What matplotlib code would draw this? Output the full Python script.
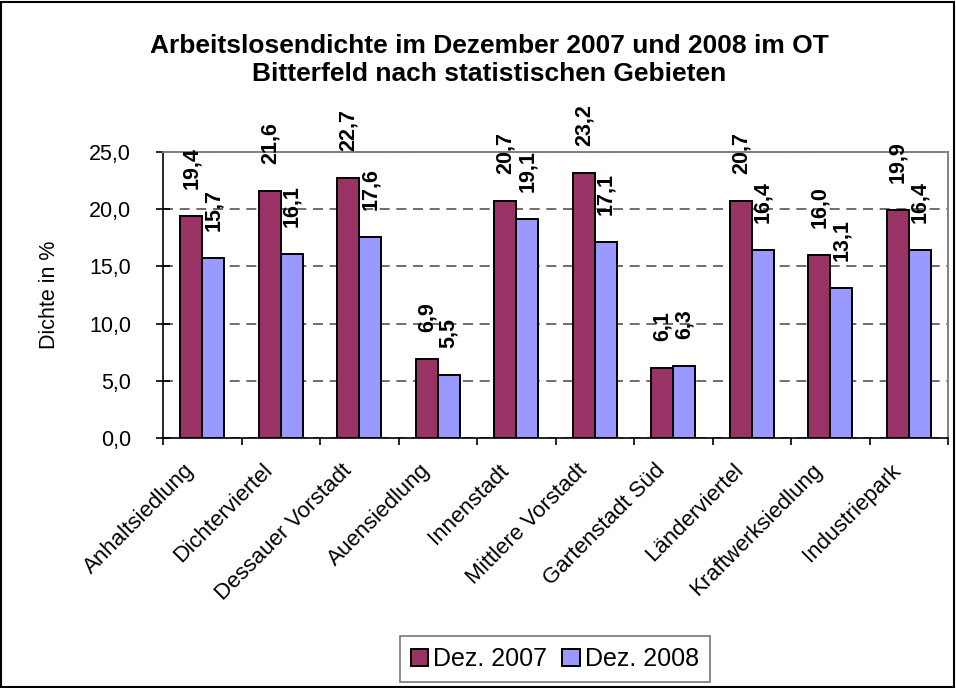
import matplotlib
matplotlib.use("Agg")
import matplotlib.pyplot as plt
import numpy as np
from matplotlib.patches import Rectangle
import matplotlib.transforms as mtransforms

plt.rcParams['font.family'] = ['Liberation Sans', 'DejaVu Sans']

categories = ["Anhaltsiedlung", "Dichterviertel", "Dessauer Vorstadt", "Auensiedlung",
              "Innenstadt", "Mittlere Vorstadt", "Gartenstadt Süd", "Länderviertel",
              "Kraftwerksiedlung", "Industriepark"]
dez2007 = [19.4, 21.6, 22.7, 6.9, 20.7, 23.2, 6.1, 20.7, 16.0, 19.9]
dez2008 = [15.7, 16.1, 17.6, 5.5, 19.1, 17.1, 6.3, 16.4, 13.1, 16.4]
series_labels = ["Dez. 2007", "Dez. 2008"]
colors = ["#993366", "#9999FF"]
yticks = [0, 5, 10, 15, 20, 25]

W, H = 956, 688
fig = plt.figure(figsize=(W/100, H/100), dpi=100)
ax = fig.add_axes([163/W, 1-438/H, (948-163)/W, (438-152)/H])

x = np.arange(len(categories))
bw = 0.28
b1 = ax.bar(x - bw/2, dez2007, bw, color=colors[0], edgecolor='black', linewidth=1.4, label=series_labels[0], zorder=3)
b2 = ax.bar(x + bw/2, dez2008, bw, color=colors[1], edgecolor='black', linewidth=1.4, label=series_labels[1], zorder=3)

for bars, vals in ((b1, dez2007), (b2, dez2008)):
    for r, v in zip(bars, vals):
        ax.annotate(f"{v:.1f}".replace('.', ','), (r.get_x() + r.get_width()/2, v),
                    xytext=(0, 19.5), textcoords='offset points', rotation=90,
                    ha='center', va='bottom', fontsize=15.5, fontweight='bold',
                    annotation_clip=False, zorder=4)

ax.set_xlim(-0.5, len(categories) - 0.5)
ax.set_ylim(0, 25)
ax.set_yticks(yticks)
ax.set_yticklabels([f"{v:.1f}".replace('.', ',') for v in yticks], fontsize=15.5)
ax.yaxis.grid(True, linestyle=(0, (6, 4)), color='#555555', linewidth=1.2, zorder=0)
ax.set_axisbelow(True)
ax.set_xticks(x)
ax.set_xticklabels(categories, rotation=45, ha='right', va='center', rotation_mode='anchor', fontsize=16)
ax.tick_params(axis='x', length=0, pad=21)
offset = mtransforms.ScaledTranslation(-11/100, 0, fig.dpi_scale_trans)
for lab in ax.get_xticklabels():
    lab.set_transform(lab.get_transform() + offset)
ax.set_xticks(np.arange(-0.5, len(categories)), minor=True)
ax.tick_params(axis='x', which='minor', length=5, direction='out', width=1.2)
ax.tick_params(axis='y', length=10, direction='inout', width=1.2, pad=18)
ax.set_ylabel("Dichte in %", fontsize=15.5, labelpad=21)

for s in ('top', 'right'):
    ax.spines[s].set_color('#808080')
    ax.spines[s].set_linewidth(1.4)
for s in ('left', 'bottom'):
    ax.spines[s].set_color('black')
    ax.spines[s].set_linewidth(1.2)

fig.text(489/W, 1-60/H, "Arbeitslosendichte im Dezember 2007 und 2008 im OT\nBitterfeld nach statistischen Gebieten",
         ha='center', va='center', fontsize=19, fontweight='bold', linespacing=1.2)

leg = fig.legend(loc='center', bbox_to_anchor=(555/W, 1-659/H), ncol=2, fontsize=18,
                 frameon=True, fancybox=False, edgecolor='#555555',
                 handlelength=0.7, handleheight=0.7, handletextpad=0.2, columnspacing=0.6,
                 borderpad=0.45, borderaxespad=0)
leg.get_frame().set_linewidth(1.2)
for p in leg.get_patches():
    p.set_edgecolor('black')
    p.set_linewidth(1.4)

fig.patches.append(Rectangle((1/W, 1/H), 1-3/W, 1-3/H, transform=fig.transFigure,
                             fill=False, edgecolor='black', linewidth=1.5))

fig.savefig("out.png", dpi=100)
